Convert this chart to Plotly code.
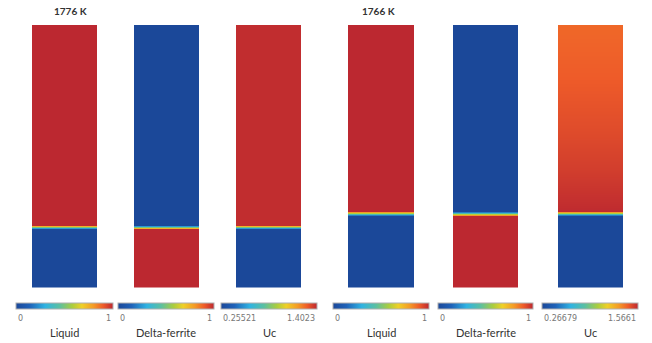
import plotly.graph_objects as go

# ---------------- data ----------------
temps = ["1776 K", "1766 K"]
fields = ["Liquid", "Delta-ferrite", "Uc"]

# normalized height levels (0 = bottom, 1 = top) for each temperature
height_1776 = [0.0, 0.221, 0.240, 1.0]
liquid_1776 = [0.0, 0.0, 1.0, 1.0]
delta_1776 = [1.0, 1.0, 0.0, 0.0]
uc_1776 = [0.25521, 0.25521, 1.39, 1.39]
uc_range_1776 = [0.25521, 1.4023]

height_1766 = [0.0, 0.271, 0.290, 0.32, 0.45, 0.6, 0.8, 1.0]
liquid_1766 = [0.0, 0.0, 1.0, 1.0, 1.0, 1.0, 1.0, 1.0]
delta_1766 = [1.0, 1.0, 0.0, 0.0, 0.0, 0.0, 0.0, 0.0]
uc_1766 = [0.26679, 0.26679, 1.56, 1.55, 1.51, 1.475, 1.436, 1.41]
uc_range_1766 = [0.26679, 1.5661]

tick_text = [["0", "1"], ["0", "1"], ["0.25521", "1.4023"],
             ["0", "1"], ["0", "1"], ["0.26679", "1.5661"]]

# ---------------- style ----------------
W, H = 652, 343
scale = [
    [0.0, "#1b4899"],
    [0.14, "#1f62b8"],
    [0.30, "#2fb3e2"],
    [0.45, "#5cc0a0"],
    [0.58, "#aacd3e"],
    [0.68, "#efd027"],
    [0.80, "#f49a26"],
    [0.90, "#ee5b29"],
    [1.0, "#bc2830"],
]

panels_x = [(32, 97), (134, 199), (236, 301), (348, 414), (453, 518), (558, 623)]
panel_top, panel_bottom = 25, 287.5
cbars_x = [(16, 113), (118, 214), (221, 317), (333, 429), (438, 533), (542, 638)]
cb_top, cb_bot = 303, 309

series = [
    (height_1776, liquid_1776, [0, 1]),
    (height_1776, delta_1776, [0, 1]),
    (height_1776, uc_1776, uc_range_1776),
    (height_1766, liquid_1766, [0, 1]),
    (height_1766, delta_1766, [0, 1]),
    (height_1766, uc_1766, uc_range_1766),
]

fig = go.Figure()
annotations = []
layout_axes = {}
for i, ((hy, vals, rng), (x0, x1), (c0, c1)) in enumerate(zip(series, panels_x, cbars_x)):
    n = i + 1
    xa = "x" if n == 1 else f"x{n}"
    ya = "y" if n == 1 else f"y{n}"
    fig.add_trace(go.Heatmap(
        x=[0, 1], y=hy, z=[[v, v] for v in vals],
        zmin=rng[0], zmax=rng[1], zsmooth="best",
        colorscale=scale, xaxis=xa, yaxis=ya, hoverinfo="skip",
        colorbar=dict(
            orientation="h", x=(c0 + c1) / 2 / W, xanchor="center",
            len=(c1 - c0) / W, lenmode="fraction",
            y=1 - cb_top / H, yanchor="top",
            thickness=cb_bot - cb_top, thicknessmode="pixels",
            outlinewidth=1, outlinecolor="#b0b0b0",
            showticklabels=False, ticks="", xpad=0, ypad=0,
        ),
    ))
    suffix = "" if n == 1 else str(n)
    layout_axes["xaxis" + suffix] = dict(
        domain=[x0 / W, x1 / W], range=[0.25, 0.75], visible=False, anchor=ya)
    layout_axes["yaxis" + suffix] = dict(
        domain=[1 - panel_bottom / H, 1 - panel_top / H], range=[0, 1],
        visible=False, anchor=xa)
    # tick labels
    annotations.append(dict(x=c0 / W, y=1 - 318 / H, xref="paper", yref="paper",
                            text=tick_text[i][0], showarrow=False, xanchor="left",
                            yanchor="middle", font=dict(size=8, color="#777777",
                                                        family="DejaVu Sans")))
    annotations.append(dict(x=c1 / W, y=1 - 318 / H, xref="paper", yref="paper",
                            text=tick_text[i][1], showarrow=False, xanchor="right",
                            yanchor="middle", font=dict(size=8, color="#777777",
                                                        family="DejaVu Sans")))
    annotations.append(dict(x=(c0 + c1) / 2 / W, y=1 - 332 / H, xref="paper",
                            yref="paper", text=fields[i % 3], showarrow=False,
                            xanchor="center", yanchor="middle",
                            font=dict(size=11, color="#333333", family="Lato")))

for t, cx in zip(temps, [70, 378]):
    annotations.append(dict(x=cx / W, y=1 - 11 / H, xref="paper", yref="paper",
                            text=f"<b>{t}</b>", showarrow=False, xanchor="center",
                            yanchor="middle",
                            font=dict(size=10, color="#333333", family="Lato")))

fig.update_layout(
    width=W, height=H,
    margin=dict(l=0, r=0, t=0, b=0, autoexpand=False),
    paper_bgcolor="white", plot_bgcolor="white",
    showlegend=False, annotations=annotations,
    **layout_axes,
)

fig.write_html("out.html", config={"displayModeBar": False})
